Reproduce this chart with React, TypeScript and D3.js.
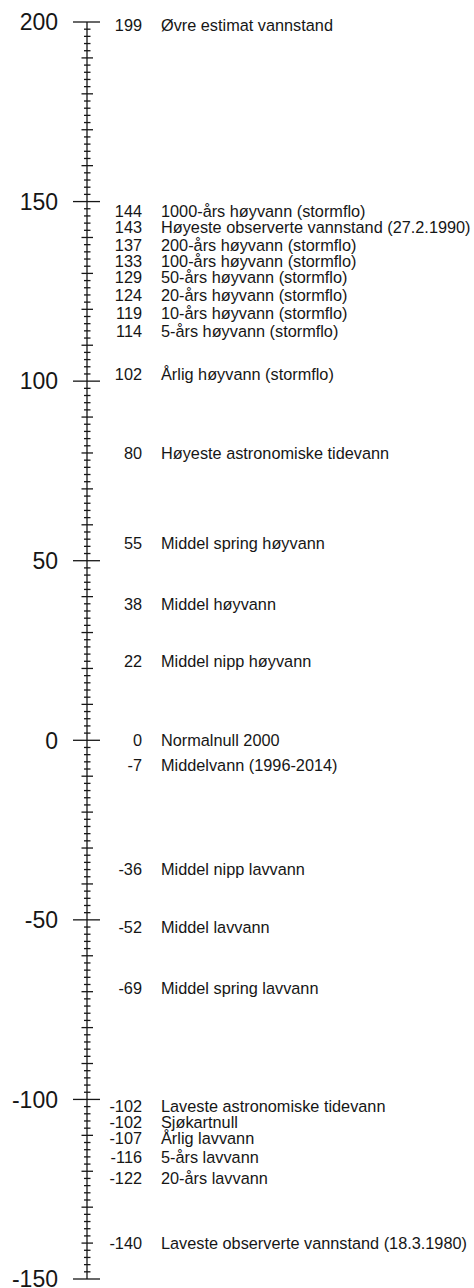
import * as d3 from 'd3';
import { useEffect, useRef } from 'react';

// Water levels (cm) and their names
const levelValues = [199, 144, 143, 137, 133, 129, 124, 119, 114, 102, 80, 55, 38, 22, 0, -7, -36, -52, -69, -102, -102, -107, -116, -122, -140];
const levelNames = [
  'Øvre estimat vannstand',
  '1000-års høyvann (stormflo)',
  'Høyeste observerte vannstand (27.2.1990)',
  '200-års høyvann (stormflo)',
  '100-års høyvann (stormflo)',
  '50-års høyvann (stormflo)',
  '20-års høyvann (stormflo)',
  '10-års høyvann (stormflo)',
  '5-års høyvann (stormflo)',
  'Årlig høyvann (stormflo)',
  'Høyeste astronomiske tidevann',
  'Middel spring høyvann',
  'Middel høyvann',
  'Middel nipp høyvann',
  'Normalnull 2000',
  'Middelvann (1996-2014)',
  'Middel nipp lavvann',
  'Middel lavvann',
  'Middel spring lavvann',
  'Laveste astronomiske tidevann',
  'Sjøkartnull',
  'Årlig lavvann',
  '5-års lavvann',
  '20-års lavvann',
  'Laveste observerte vannstand (18.3.1980)',
];
const axisLabels = [200, 150, 100, 50, 0, -50, -100, -150];

export default function App() {
  const svgRef = useRef<SVGSVGElement | null>(null);

  useEffect(() => {
    if (!svgRef.current) return;

    const width = 474;
    const height = 1288;
    const axisX = 87;
    const font = 'Liberation Sans, Arial, sans-serif';
    const ink = '#161616';
    const gap = 16;

    const svg = d3.select(svgRef.current)
      .attr('width', width)
      .attr('height', height);
    svg.selectAll('*').remove();

    const y = d3.scaleLinear().domain([-150, 200]).range([1279, 22]);

    // vertical axis line
    svg.append('line')
      .attr('x1', axisX).attr('x2', axisX)
      .attr('y1', y(200)).attr('y2', y(-150))
      .attr('stroke', ink).attr('stroke-width', 1.3);

    // ticks every 2, longer every 10, longest every 50
    const ticks = d3.range(-150, 201, 2);
    svg.append('g')
      .selectAll('line')
      .data(ticks)
      .join('line')
      .attr('x1', (d) => (d % 50 === 0 ? 73 : d % 10 === 0 ? 81.5 : 84))
      .attr('x2', (d) => (d % 50 === 0 ? 100 : d % 10 === 0 ? 93 : 90.5))
      .attr('y1', (d) => y(d))
      .attr('y2', (d) => y(d))
      .attr('stroke', ink)
      .attr('stroke-width', 1.3);

    svg.append('g')
      .selectAll('text')
      .data(axisLabels)
      .join('text')
      .attr('x', 58)
      .attr('y', (d) => y(d))
      .attr('dy', '0.36em')
      .attr('text-anchor', 'end')
      .attr('font-family', font)
      .attr('font-size', 23)
      .attr('fill', ink)
      .text((d) => d);

    // label positions: push crowded labels away from zero
    const items = levelValues.map((v, i) => ({ v, name: levelNames[i], ly: y(v), i }));
    const upper = items.filter((d) => d.v >= 0).sort((a, b) => a.v - b.v || b.i - a.i);
    let prev = Infinity;
    upper.forEach((d) => {
      d.ly = Math.min(y(d.v), prev - gap);
      prev = d.ly;
    });
    const lower = items.filter((d) => d.v < 0).sort((a, b) => b.v - a.v || a.i - b.i);
    prev = -Infinity;
    lower.forEach((d) => {
      d.ly = Math.max(y(d.v), prev + gap);
      prev = d.ly;
    });

    const labels = svg.append('g')
      .attr('font-family', font)
      .attr('font-size', 16.3)
      .attr('fill', ink);

    labels.selectAll('text.val')
      .data(items)
      .join('text')
      .attr('class', 'val')
      .attr('x', 142)
      .attr('y', (d) => d.ly)
      .attr('dy', '0.36em')
      .attr('text-anchor', 'end')
      .text((d) => d.v);

    labels.selectAll('text.name')
      .data(items)
      .join('text')
      .attr('class', 'name')
      .attr('x', 161)
      .attr('y', (d) => d.ly)
      .attr('dy', '0.36em')
      .text((d) => d.name);
  }, []);

  return (
    <div style={{ position: 'absolute', left: 0, top: 0, background: '#fff' }}>
      <svg ref={svgRef} style={{ display: 'block' }}></svg>
    </div>
  );
}
